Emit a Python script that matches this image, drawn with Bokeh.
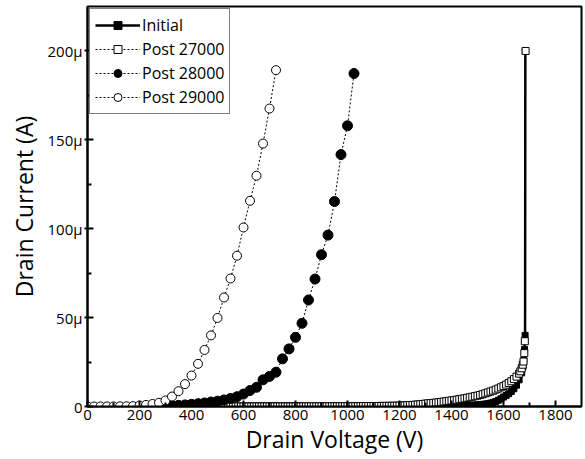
from bokeh.plotting import figure
from bokeh.models import Range1d, FixedTicker, Legend
from bokeh.embed import file_html
from bokeh.resources import INLINE

# ---------------- data (current in µA) ----------------
v_initial = [500, 520, 540, 560, 580, 600, 620, 640, 660, 680, 700, 720, 740, 760, 780,
             800, 820, 840, 860, 880, 900, 920, 940, 960, 980, 1000, 1020, 1040, 1060, 1080,
             1100, 1120, 1140, 1160, 1180, 1200, 1220, 1240, 1260, 1280, 1300, 1320, 1340,
             1360, 1380, 1400, 1420, 1440, 1460, 1480, 1500, 1510, 1520, 1530, 1540, 1550,
             1560, 1570, 1580, 1590, 1600, 1610, 1620, 1630, 1640, 1650, 1660, 1670, 1675,
             1678, 1681, 1683, 1684]
i_initial = [0.0, 0.0, 0.0, 0.0, 0.0, 0.0, 0.0, 0.0, 0.01, 0.01, 0.01, 0.01, 0.02, 0.02, 0.02,
             0.03, 0.03, 0.04, 0.04, 0.05, 0.05, 0.06, 0.07, 0.08, 0.09, 0.1, 0.11, 0.12, 0.13, 0.14,
             0.15, 0.17, 0.19, 0.21, 0.23, 0.25, 0.28, 0.31, 0.34, 0.37, 0.4, 0.44, 0.48,
             0.52, 0.56, 0.6, 0.66, 0.72, 0.8, 0.9, 1.0, 1.1, 1.2, 1.4, 1.6, 1.9,
             2.3, 2.8, 3.5, 4.3, 5.3, 6.2, 7.2, 8.5, 10.0, 12.0, 15.0, 19.0, 22.5,
             26.0, 32.0, 40.0, 200.0]

v_post27000 = [500, 510, 520, 530, 540, 550, 560, 570, 580, 590,
               600, 610, 620, 630, 640, 650, 660, 670, 680, 690,
               700, 710, 720, 730, 740, 750, 760, 770, 780, 790,
               800, 810, 820, 830, 840, 850, 860, 870, 880, 890,
               900, 910, 920, 930, 940, 950, 960, 970, 980, 990,
               1000, 1010, 1020, 1030, 1040, 1050, 1060, 1070, 1080, 1090,
               1100, 1110, 1120, 1130, 1140, 1150, 1160, 1170, 1180, 1190,
               1200, 1210, 1220, 1230, 1240, 1250, 1260, 1270, 1280, 1290,
               1300, 1310, 1320, 1330, 1340, 1350, 1360, 1370, 1380, 1390,
               1400, 1410, 1420, 1430, 1440, 1450, 1460, 1470, 1480, 1490,
               1500, 1510, 1520, 1530, 1540, 1550, 1560, 1570, 1580, 1590,
               1600, 1610, 1620, 1630, 1640, 1650, 1660, 1665, 1670, 1674,
               1677, 1680, 1682, 1685]
i_post27000 = [0.0, 0.0, 0.0, 0.0, 0.0, 0.0, 0.0, 0.0, 0.0, 0.0,
               0.01, 0.01, 0.01, 0.01, 0.01, 0.02, 0.02, 0.02, 0.02, 0.02,
               0.03, 0.03, 0.03, 0.03, 0.04, 0.04, 0.04, 0.05, 0.05, 0.05,
               0.06, 0.06, 0.07, 0.07, 0.08, 0.08, 0.09, 0.09, 0.1, 0.1,
               0.11, 0.11, 0.12, 0.12, 0.13, 0.13, 0.14, 0.14, 0.15, 0.15,
               0.16, 0.17, 0.18, 0.19, 0.2, 0.21, 0.22, 0.23, 0.24, 0.25,
               0.26, 0.28, 0.3, 0.32, 0.34, 0.36, 0.38, 0.4, 0.42, 0.45,
               0.5, 0.55, 0.6, 0.7, 0.8, 0.9, 1.0, 1.15, 1.3, 1.45,
               1.6, 1.75, 1.9, 2.05, 2.2, 2.4, 2.6, 2.8, 3.0, 3.2,
               3.4, 3.6, 3.85, 4.1, 4.35, 4.6, 4.9, 5.2, 5.5, 5.8,
               6.1, 6.5, 6.9, 7.4, 7.9, 8.4, 8.9, 9.5, 10.1, 10.8,
               11.5, 12.3, 13.2, 14.2, 15.4, 16.8, 18.5, 19.8, 21.5, 23.5,
               25.3, 30.0, 36.7, 200.0]

v_post28000 = [250, 275, 300, 325, 350, 375, 400, 425, 450, 475, 500, 525, 550, 575, 600,
               625, 650, 675, 700, 725, 750, 775, 800, 825, 850, 875, 900, 925, 950, 975,
               1000, 1025]
i_post28000 = [0.12, 0.2, 0.3, 0.45, 0.65, 0.9, 1.2, 1.6, 2.0, 2.5, 3.0, 3.7, 4.5, 5.5, 7.0,
               9.0, 10.8, 15.0, 16.9, 19.3, 26.8, 32.4, 38.9, 46.8, 59.9, 71.7, 85.4, 96.4, 115.3, 141.7,
               157.9, 187.3]

v_post29000 = [0, 25, 50, 75, 100, 125, 150, 175, 200, 225, 250, 275, 300, 325, 350,
               375, 400, 425, 450, 475, 500, 525, 550, 575, 600, 625, 650, 675, 700, 725]
i_post29000 = [0.0, 0.0, 0.02, 0.03, 0.05, 0.08, 0.12, 0.2, 0.5, 0.9, 1.4, 2.1, 3.4, 5.6, 8.6,
               12.6, 17.4, 24.0, 31.8, 40.0, 49.8, 61.3, 72.0, 84.8, 100.7, 115.7, 129.8, 147.9, 167.6, 189.2]

x_ticks = [0, 200, 400, 600, 800, 1000, 1200, 1400, 1600, 1800]
x_minor = [100, 300, 500, 700, 900, 1100, 1300, 1500, 1700]
y_ticks = [0, 50, 100, 150, 200]
y_minor = [25, 75, 125, 175]
y_tick_labels = {0: "0", 50: "50µ", 100: "100µ", 150: "150µ", 200: "200µ"}

FONT = "Open Sans"

p = figure(width=583, height=457, output_backend="svg", toolbar_location=None,
           x_range=Range1d(0, 1900), y_range=Range1d(0, 225),
           min_border_left=87, min_border_right=2, min_border_top=6, min_border_bottom=0)
p.grid.visible = False
p.outline_line_color = "black"
p.outline_line_width = 2
p.background_fill_color = "white"
p.border_fill_color = "white"

# draw order: Initial under the others
r0l = p.line(v_initial, i_initial, line_color="black", line_width=2.5)
r0m = p.scatter(v_initial, i_initial, marker="square", size=6, fill_color="black", line_color="black")

r1l = p.line(v_post27000, i_post27000, line_color="black", line_width=1, line_dash="2 2")
r1m = p.scatter(v_post27000, i_post27000, marker="square", size=7, fill_color="white",
                line_color="black", line_width=1)

r2l = p.line(v_post28000, i_post28000, line_color="black", line_width=1, line_dash="2 2")
r2m = p.scatter(v_post28000, i_post28000, marker="circle", size=10, fill_color="black", line_color="black")

r3l = p.line(v_post29000, i_post29000, line_color="black", line_width=1, line_dash="2 2")
r3m = p.scatter(v_post29000, i_post29000, marker="circle", size=9, fill_color="white",
                line_color="black", line_width=1)

legend = Legend(items=[("Initial", [r0l, r0m]), ("Post 27000", [r1l, r1m]),
                       ("Post 28000", [r2l, r2m]), ("Post 29000", [r3l, r3m])],
                location="top_left")
legend.margin = 2
legend.padding = 5
legend.spacing = 2
legend.glyph_width = 45
legend.glyph_height = 20
legend.label_height = 20
legend.label_standoff = 2
legend.label_text_font = FONT
legend.label_text_font_size = "16px"
legend.label_text_color = "black"
legend.border_line_color = "black"
legend.border_line_width = 1
legend.background_fill_alpha = 1
p.add_layout(legend)

xa = p.xaxis[0]
xa.ticker = FixedTicker(ticks=x_ticks, minor_ticks=x_minor)
xa.axis_label = "Drain Voltage (V)"
ya = p.yaxis[0]
ya.ticker = FixedTicker(ticks=y_ticks, minor_ticks=y_minor)
ya.major_label_overrides = y_tick_labels
ya.axis_label = "Drain Current (A)"

for ax in (xa, ya):
    ax.axis_line_width = 2
    ax.axis_line_color = "black"
    ax.major_tick_line_width = 2
    ax.minor_tick_line_width = 2
    ax.major_tick_in = 6
    ax.major_tick_out = 0
    ax.minor_tick_in = 4
    ax.minor_tick_out = 0
    ax.major_label_text_font = FONT
    ax.major_label_text_font_size = "15px"
    ax.major_label_text_color = "black"
    ax.axis_label_text_font = FONT
    ax.axis_label_text_font_size = "23px"
    ax.axis_label_text_font_style = "normal"
    ax.axis_label_text_color = "black"
    ax.major_label_standoff = 3
    ax.axis_label_standoff = 0

ya.major_tick_out = 3
ya.major_label_standoff = 2
ya.axis_label_standoff = 4

open("out.html", "w").write(file_html(p, INLINE))
